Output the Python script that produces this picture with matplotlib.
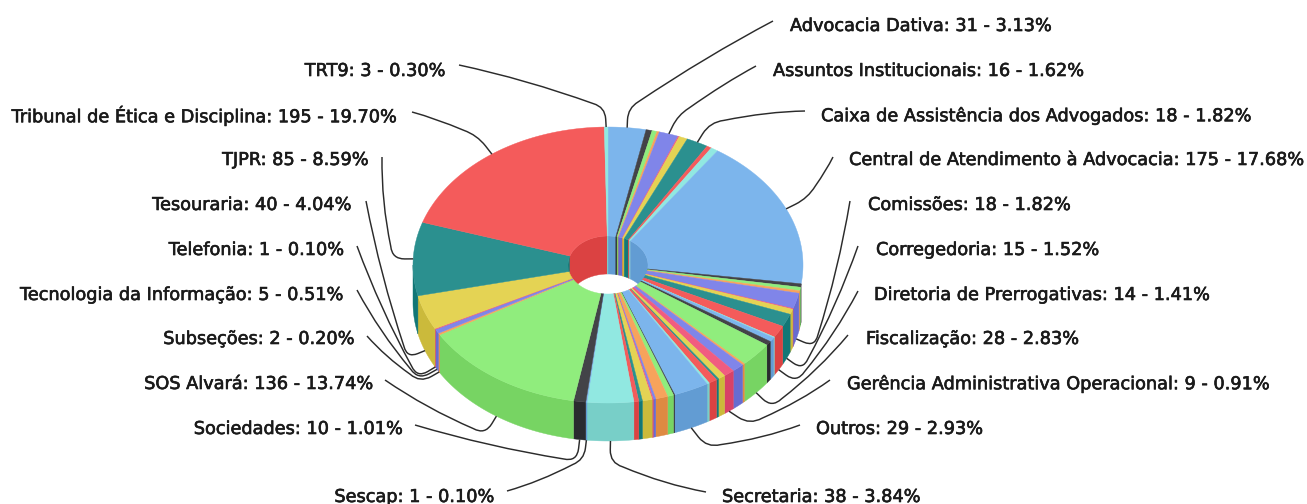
import numpy as np
import matplotlib
matplotlib.use('Agg')
import matplotlib.pyplot as plt
import matplotlib.patheffects as pe
from matplotlib.patches import Polygon, PathPatch
from matplotlib.path import Path
from matplotlib.colors import to_rgb

# slices clockwise from the top, '' = slice whose label is not shown
names = ['Advocacia Dativa', '', '', '', 'Assuntos Institucionais', '', '',
         'Caixa de Assistência dos Advogados', '', '',
         'Central de Atendimento à Advocacia', '', '', '', 'Comissões', '', '',
         'Corregedoria', 'Diretoria de Prerrogativas', '',
         '', '', 'Fiscalização', '', '', 'Gerência Administrativa Operacional', '', '', '', '',
         'Outros', '', '', '', '', '', '', '', '', 'Secretaria',
         'Sescap', 'Sociedades', 'SOS Alvará', 'Subseções', 'Tecnologia da Informação',
         'Telefonia', 'Tesouraria', 'TJPR', 'Tribunal de Ética e Disciplina', 'TRT9']
values = [31, 5, 4, 2, 16, 1, 7, 18, 4, 6,
          175, 4, 4, 3, 18, 1, 6, 15, 14, 1,
          5, 5, 28, 2, 10, 9, 6, 2, 7, 2,
          29, 1, 5, 10, 2, 1, 8, 3, 4, 38,
          1, 10, 136, 2, 5, 1, 40, 85, 195, 3]
colors = ['#7cb5ec', '#434348', '#90ed7d', '#f7a35c', '#8085e9',
          '#f15c80', '#e4d354', '#2b908f', '#f45b5b', '#91e8e1']

# label placement: name -> (text x, text y, align, connector start, connector knee)
label_pos = {
    'Advocacia Dativa': (790, 26, 'left', (773, 21), (628, 108)),
    'Assuntos Institucionais': (773, 71, 'left', (756, 66), (678, 115)),
    'Caixa de Assistência dos Advogados': (821, 116, 'left', (805, 111), (710, 122)),
    'Central de Atendimento à Advocacia': (849, 160, 'left', (833, 157), (808, 198)),
    'Comissões': (868, 205, 'left', (850, 201), (815, 347)),
    'Corregedoria': (876, 250, 'left', (858, 246), (803, 370)),
    'Diretoria de Prerrogativas': (874, 295, 'left', (858, 291), (797, 383)),
    'Fiscalização': (866, 339, 'left', (848, 335), (772, 408)),
    'Gerência Administrativa Operacional': (847, 384, 'left', (830, 380), (750, 425)),
    'Outros': (816, 429, 'left', (800, 425), (707, 448)),
    'Secretaria': (722, 497, 'left', (706, 492), (610, 463)),
    'Sescap': (495, 497, 'right', (507, 491), (584, 460)),
    'Sociedades': (404, 429, 'right', (415, 425), (577, 462)),
    'SOS Alvará': (374, 384, 'right', (385, 380), (485, 435)),
    'Subseções': (355, 339, 'right', (367, 336), (420, 383)),
    'Tecnologia da Informação': (345, 295, 'right', (357, 290), (418, 380)),
    'Telefonia': (345, 250, 'right', (357, 246), (417, 378)),
    'Tesouraria': (352, 205, 'right', (366, 201), (407, 358)),
    'TJPR': (369, 160, 'right', (382, 157), (392, 259)),
    'Tribunal de Ética e Disciplina': (398, 116, 'right', (412, 112), (477, 135)),
    'TRT9': (446, 71, 'right', (459, 65), (605, 107)),
}

cx, cy = 608, 265
rx, ry = 195, 138
irx, iry = 40, 29
depth = 38


def darker(c):
    return tuple(max(v - 0.1, 0) for v in to_rgb(c))


def ell(a, w, h, dy=0):
    a = np.radians(a)
    return np.column_stack([cx + w * np.sin(a), cy - h * np.cos(a) + dy])


def arc(a0, a1):
    return np.linspace(a0, a1, max(int(abs(a1 - a0) * 3), 2) + 1)


def clip(a0, a1, lo, hi):
    return max(a0, lo), min(a1, hi)


def fill(ax, pts, c, z):
    ax.add_patch(Polygon(pts, closed=True, fc=c, ec=c, lw=0.3, zorder=z))


def connector(ax, start, knee, end):
    start, knee = np.array(start, float), np.array(knee, float)
    d0 = np.linalg.norm(start - knee)
    d1 = np.linalg.norm(end - knee)
    r = min(14, 0.6 * d1, 0.4 * d0)
    p0 = knee + (start - knee) / d0 * r
    p1 = knee + (end - knee) / max(d1, 1e-6) * r
    # long legs bow a little away from the last leg
    bow = (knee - end) / max(d1, 1e-6) * min(d0 * 0.05, 5)
    path = Path([start, (start + p0) / 2 + bow, p0, knee, p1, end],
                [Path.MOVETO, Path.CURVE3, Path.CURVE3, Path.CURVE3, Path.CURVE3, Path.LINETO])
    ax.add_patch(PathPatch(path, fc='none', ec='#2b2b2b', lw=1.05, zorder=4))


fig = plt.figure(figsize=(13.07, 5.04), dpi=100)
ax = fig.add_axes([0, 0, 1, 1])
ax.set_xlim(0, 1307)
ax.set_ylim(504, 0)
ax.axis('off')

total = float(sum(values))
edges = np.concatenate([[0], np.cumsum(values)]) / total * 360

for i, (a0, a1) in enumerate(zip(edges[:-1], edges[1:])):
    c = colors[i % len(colors)]
    side = darker(c)

    # inner wall, far half only
    for lo, hi in [(-90, 90), (270, 450)]:
        b0, b1 = clip(a0, a1, lo, hi)
        if b1 > b0:
            t = arc(b0, b1)
            fill(ax, np.vstack([ell(t, irx, iry), ell(t[::-1], irx, iry, depth)]), side, 1)

    # outer wall, the reference shows none of it above the big blue slice's end
    b0, b1 = clip(a0, a1, 98, 270)
    if b1 > b0:
        t = arc(b0, b1)
        fill(ax, np.vstack([ell(t, rx, ry), ell(t[::-1], rx, ry, depth)]), side, 2)

    # top face
    t = arc(a0, a1)
    fill(ax, np.vstack([ell(t, rx, ry), ell(t[::-1], irx, iry)]), c, 3)

    name = names[i]
    if not name:
        continue
    tx, ty, ha, start, knee = label_pos[name]
    mid = (a0 + a1) / 2
    end = ell(np.array([mid]), rx, ry, depth if 90 < mid < 270 else 0)[0]
    connector(ax, start, knee, end)

    pct = values[i] / total * 100
    txt = ax.text(tx, ty, '%s: %d - %.2f%%' % (name, values[i], pct), ha=ha, va='center',
                  fontsize=12.75, family='DejaVu Sans', color='#1a1a1a', zorder=5)
    txt.set_path_effects([pe.withStroke(linewidth=0.45, foreground='#1a1a1a')])

plt.savefig('out.png', dpi=100)
